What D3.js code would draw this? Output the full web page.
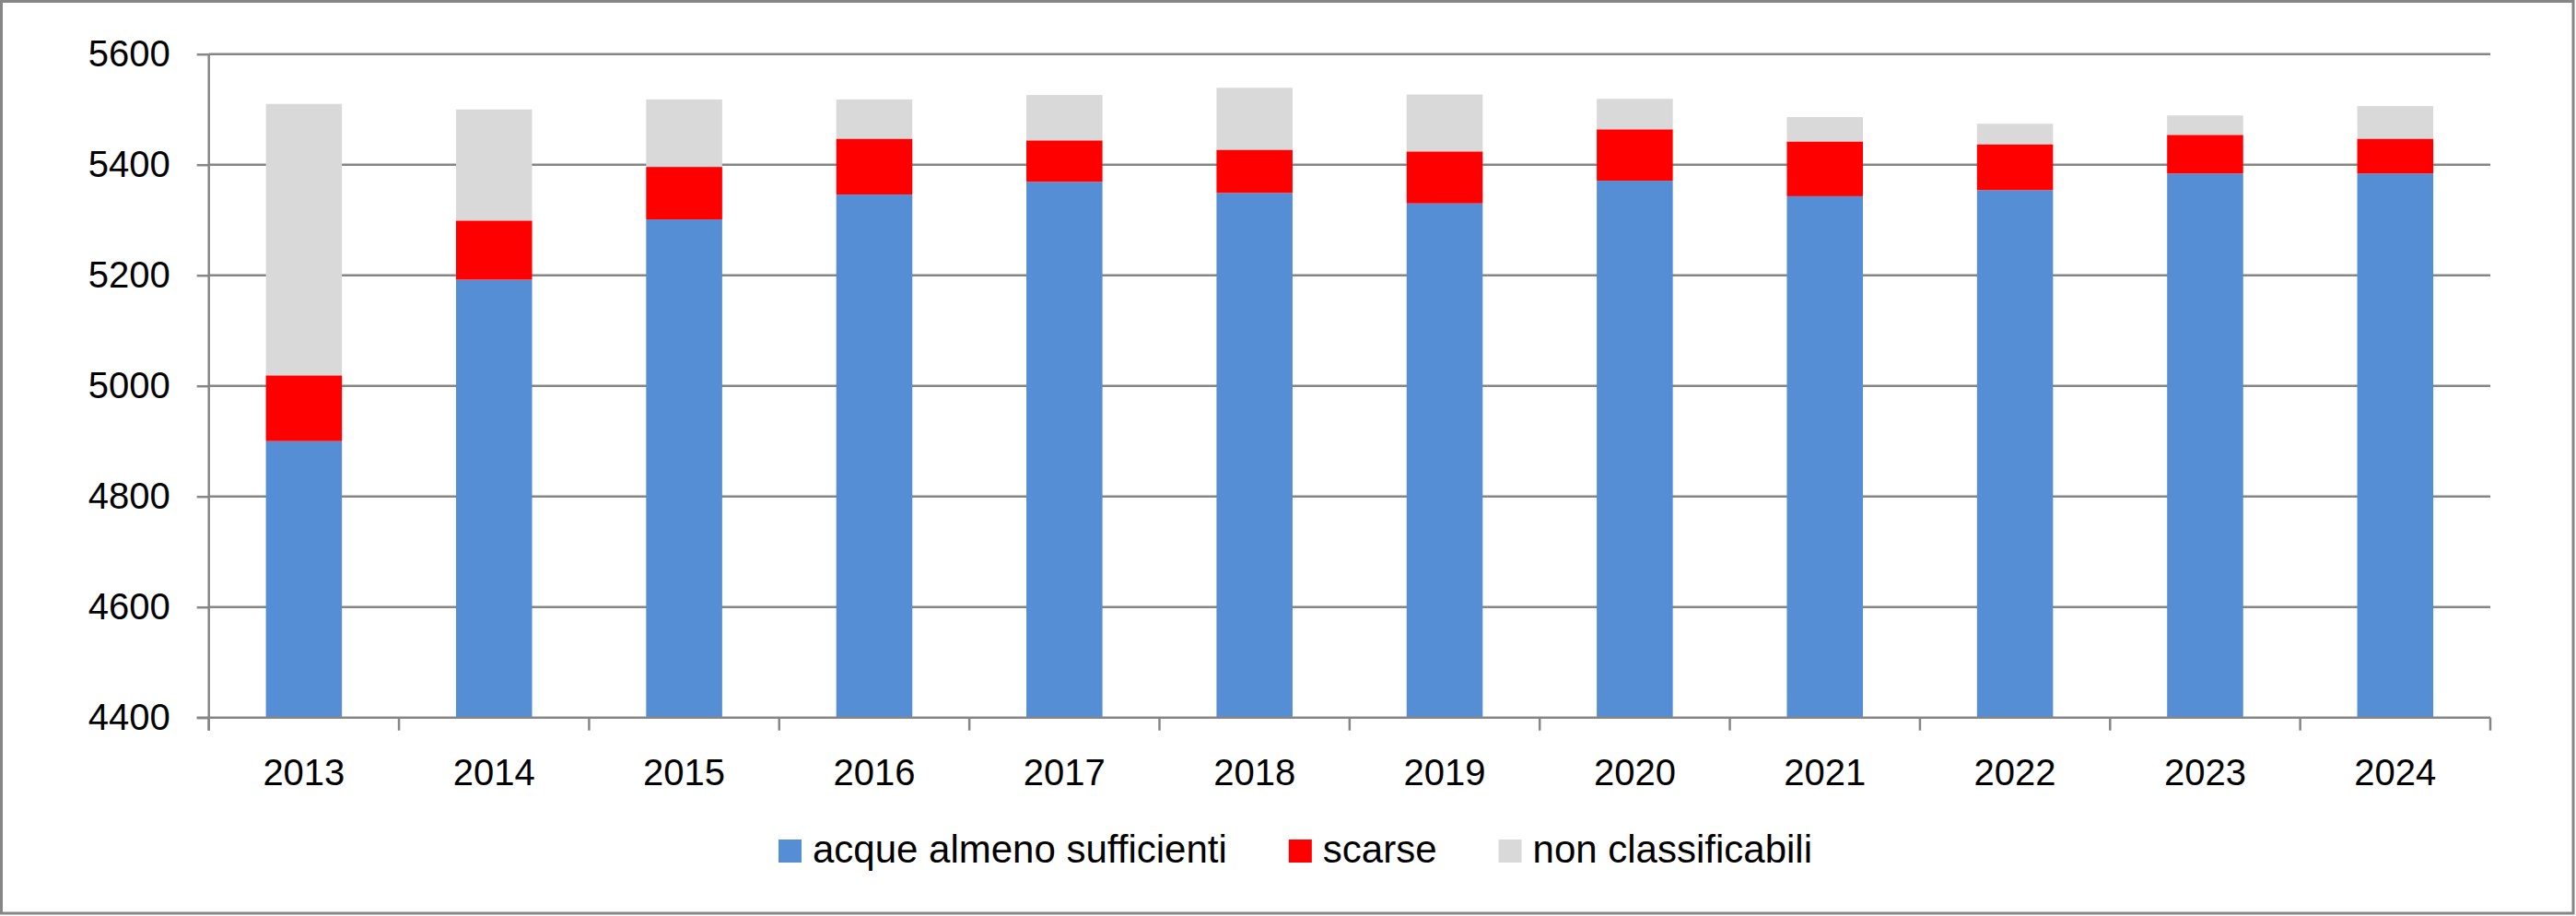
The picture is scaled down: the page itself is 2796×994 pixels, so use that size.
<!DOCTYPE html>
<html>
<head>
<meta charset="utf-8">
<script src="https://cdn.jsdelivr.net/npm/d3@7"></script>
<style>
  html, body { margin: 0; padding: 0; background: #ffffff; }
  svg { display: block; }
  text { font-family: "Liberation Sans", Arial, sans-serif; fill: #000; }
</style>
</head>
<body>
<svg id="chart" width="2796" height="994"></svg>
<script>
const years = ["2013","2014","2015","2016","2017","2018","2019","2020","2021","2022","2023","2024"];
const sufficienti = [4900, 5192, 5301, 5346, 5369, 5349, 5330, 5371, 5343, 5354, 5384, 5384];
const scarse = [119, 107, 95, 101, 75, 78, 94, 93, 99, 83, 70, 63];
const nonClassificabili = [491, 201, 122, 71, 82, 112, 103, 55, 44, 37, 35, 59];
const yTicks = [4400, 4600, 4800, 5000, 5200, 5400, 5600];
const seriesNames = ["acque almeno sufficienti", "scarse", "non classificabili"];
const seriesKeys = ["suff", "scarse", "nc"];
const colors = ["#558ED5", "#FF0000", "#D9D9D9"];

const svg = d3.select("#chart");
const W = 2796, H = 994;
const gridColor = "#868686";

// chart border
svg.append("rect").attr("x", 1.5).attr("y", 1.5).attr("width", W - 4.5).attr("height", H - 4.5)
  .attr("fill", "#fff").attr("stroke", gridColor).attr("stroke-width", 3);

const pL = 226.7, pR = 2703, pT = 58.7, pB = 778.7;

const table = years.map((yr, i) => ({year: yr, suff: sufficienti[i], scarse: scarse[i], nc: nonClassificabili[i]}));

const x = d3.scaleBand().domain(years).range([pL, pR]).paddingInner(0.6).paddingOuter(0.3);
const y = d3.scaleLinear().domain([4400, 5600]).range([pB, pT]).clamp(true);

// gridlines
svg.append("g").selectAll("line").data(yTicks.slice(1)).join("line")
  .attr("x1", pL).attr("x2", pR)
  .attr("y1", d => y(d)).attr("y2", d => y(d))
  .attr("stroke", gridColor).attr("stroke-width", 2.5);

// bars
const stacked = d3.stack().keys(seriesKeys)(table);
svg.append("g").selectAll("g").data(stacked).join("g")
  .attr("fill", (d, i) => colors[i])
  .selectAll("rect").data(d => d).join("rect")
  .attr("x", d => x(d.data.year))
  .attr("width", x.bandwidth())
  .attr("y", d => y(d[1]))
  .attr("height", d => y(d[0]) - y(d[1]));

// y axis
const yAxis = svg.append("g").attr("transform", `translate(${pL},0)`)
  .call(d3.axisLeft(y).tickValues(yTicks).tickSize(13).tickPadding(29).tickFormat(d3.format("d")));
yAxis.select(".domain").remove();
yAxis.selectAll(".tick line").attr("stroke", gridColor).attr("stroke-width", 2.5);
yAxis.selectAll(".tick text").attr("font-size", 40).attr("font-family", "Liberation Sans, Arial, sans-serif").attr("fill", "#000");
svg.append("line").attr("x1", pL).attr("x2", pL).attr("y1", pT).attr("y2", pB + 14)
  .attr("stroke", gridColor).attr("stroke-width", 2.5);

// x axis
svg.append("line").attr("x1", pL - 13).attr("x2", pR).attr("y1", pB).attr("y2", pB)
  .attr("stroke", gridColor).attr("stroke-width", 2.5);
const halfGap = (x.step() - x.bandwidth()) / 2;
const boundaries = years.map(d => x(d) - halfGap).concat([x(years[years.length - 1]) + x.bandwidth() + halfGap]);
svg.append("g").selectAll("line").data(boundaries).join("line")
  .attr("x1", d => d).attr("x2", d => d).attr("y1", pB).attr("y2", pB + 14)
  .attr("stroke", gridColor).attr("stroke-width", 2.5);
svg.append("g").selectAll("text").data(years).join("text")
  .attr("x", d => x(d) + x.bandwidth() / 2).attr("y", 852)
  .attr("text-anchor", "middle").attr("font-size", 40).text(d => d);

// legend
const legend = svg.append("g");
const items = legend.selectAll("g").data(seriesNames).join("g");
items.append("rect").attr("width", 25).attr("height", 25).attr("y", 911).attr("fill", (d, i) => colors[i]);
items.append("text").attr("x", 37).attr("y", 936).attr("font-size", 42).text(d => d);
let cx = 0;
const gap = 67;
items.each(function () {
  const g = d3.select(this);
  const w = 37 + g.select("text").node().getComputedTextLength();
  g.attr("transform", `translate(${cx},0)`);
  cx += w + gap;
});
const totalW = cx - gap;
legend.attr("transform", `translate(${1406 - totalW / 2},0)`);
</script>
</body>
</html>
